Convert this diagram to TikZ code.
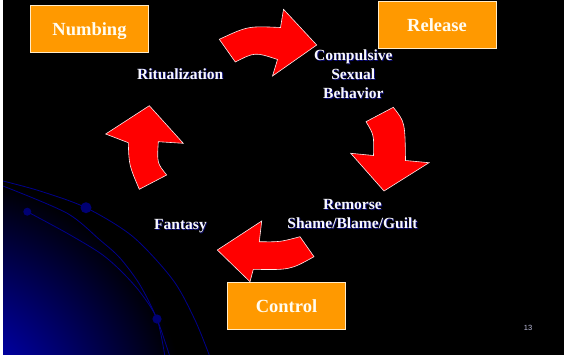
\documentclass[tikz,border=0pt]{standalone}
\usepackage{fontspec}
\setmainfont{Liberation Serif}
\setsansfont{Liberation Sans}
\usepackage{xcolor}
\definecolor{slideorange}{RGB}{255,153,0}
\definecolor{boxedge}{RGB}{255,235,200}
\definecolor{boxtext}{RGB}{255,252,240}
\definecolor{arrowred}{RGB}{255,0,0}
\definecolor{planetblue}{RGB}{0,0,250}
\definecolor{orbitblue}{RGB}{0,0,140}
\definecolor{moonblue}{RGB}{0,0,115}
\definecolor{labelwhite}{RGB}{248,248,255}
\definecolor{labelshadow}{RGB}{10,10,120}
\definecolor{pagegray}{RGB}{190,190,220}
\newcommand{\shtext}[1]{\leavevmode\rlap{\kern0.9pt\raisebox{-0.9pt}{\textcolor{labelshadow}{#1}}}\textcolor{labelwhite}{#1}}

\begin{document}
\begin{tikzpicture}[x=1pt, y=-1pt,
    stagebox/.style={draw=boxedge, line width=0.8pt, fill=slideorange, minimum width=118pt,
        minimum height=47pt, inner sep=0pt, text=boxtext,
        font=\bfseries\fontsize{18.5}{22}\selectfont, text height=12.5pt, text depth=0pt},
    cyclelabel/.style={anchor=base, align=center, inner sep=0pt,
        font=\bfseries\fontsize{15.5}{19}\selectfont},
    blockarrow/.style={fill=arrowred, draw=white!92!red, line width=0.6pt, line join=miter},
    orbit/.style={draw=orbitblue, line width=0.8pt},
    moon/.style={fill=moonblue}]
        \useasboundingbox (0,0) rectangle (564,357);
        \fill[white] (0,0) rectangle (564,357);
        \fill[black] (3,0) rectangle (564,354.5);
        % planet in the corner
        \begin{scope}
            \clip (3,0) rectangle (564,354.5);
            \shade[inner color=planetblue, outer color=black] (-60,420) circle (246pt);
            \draw[orbit] plot[smooth] coordinates {(3,181) (40,191) (86,207.7) (133,236.7) (173,280) (195,320) (210,357)};
            \draw[orbit] plot[smooth] coordinates {(3,186) (66.7,213) (100,240) (120,258) (140,285) (157,319) (170,357)};
            \draw[orbit] plot[smooth] coordinates {(27.3,211.7) (66.7,233) (100,253) (120,270) (140,292) (157,319) (165,357)};
            \fill[moon] (86,207.7) circle (5.5pt);
            \fill[moon] (27.3,211.7) circle (4pt);
            \fill[moon] (157,319) circle (4.6pt);
        \end{scope}
        % the four block arrows
        \filldraw[blockarrow] (219.3,39.3) .. controls (248,26) .. (280.5,27.5) -- (283.5,9.3) -- (316.7,45)
            -- (272.5,76) -- (277.5,59.5) .. controls (255,52) .. (235.3,62) -- cycle;
        \filldraw[blockarrow] (393.3,107.3) .. controls (405,122) .. (405.5,160.5) -- (429,162.7) -- (384,191)
            -- (350.7,153.3) -- (373.5,155.5) .. controls (374,135) .. (366,121.7) -- cycle;
        \filldraw[blockarrow] (314,256.7) .. controls (290,270) .. (253.3,269.3) -- (250,281.7) -- (217.3,250)
            -- (261.7,221) -- (259.3,241.7) .. controls (280,242) .. (300,236.7) -- cycle;
        \filldraw[blockarrow] (139.3,189.3) .. controls (129,165) .. (128.3,142.7) -- (105.7,134) -- (149.3,105.7)
            -- (183.3,143.3) -- (158.3,141.7) .. controls (157,163) .. (166.7,175) -- cycle;
        % stages
        \node[stagebox] (numbing) at (89.5,29) {Numbing};
        \node[stagebox] (release) at (437,25) {Release};
        \node[stagebox] (control) at (286.5,306) {Control};
        \node[cyclelabel] (ritual) at (180.3,79) {\shtext{Ritualization}};
        \node[cyclelabel] (compulsive) at (353.3,98.3) {\shtext{Compulsive}\\\shtext{Sexual}\\\shtext{Behavior}};
        \node[cyclelabel] (remorse) at (352.5,228.3) {\shtext{Remorse}\\\shtext{Shame/Blame/Guilt}};
        \node[cyclelabel] (fantasy) at (180.5,229.3) {\shtext{Fantasy}};
        \node[text=pagegray, font=\sffamily\fontsize{7.5}{8}\selectfont, inner sep=0pt] (page) at (528,328) {13};
    \end{tikzpicture}
\end{document}
